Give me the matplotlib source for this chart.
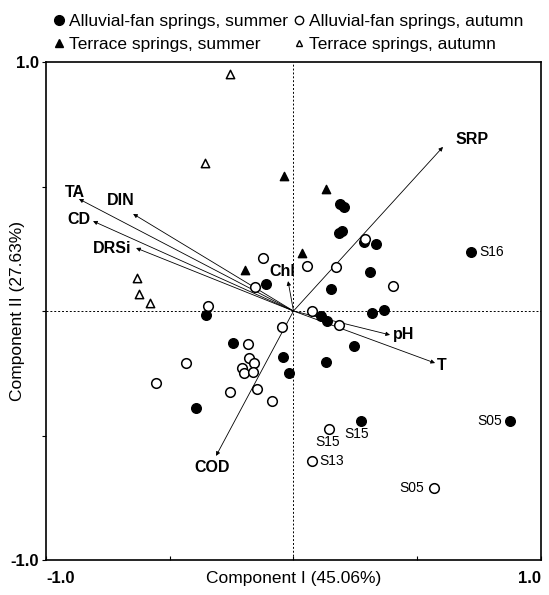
import numpy as np
import matplotlib.pyplot as plt
from matplotlib.lines import Line2D

plt.rcParams['font.family'] = ['Liberation Sans', 'DejaVu Sans']

# scores: alluvial-fan springs, summer (filled circles)
af_sum_x = [0.188, 0.204, 0.184, 0.196, 0.285, 0.333, 0.309, 0.152, 0.366, 0.317,
            0.111, 0.135, 0.244, 0.131, -0.042, -0.018, -0.111, -0.354, -0.244,
            -0.394, 0.717, 0.875, 0.273]
af_sum_y = [0.430, 0.418, 0.313, 0.321, 0.277, 0.269, 0.157, 0.088, 0.004, -0.008,
            -0.020, -0.040, -0.141, -0.205, -0.185, -0.249, 0.108, -0.016, -0.129,
            -0.390, 0.237, -0.442, -0.442]

# alluvial-fan springs, autumn (open circles)
af_aut_x = [0.289, 0.055, 0.172, 0.402, 0.075, 0.184, -0.046, -0.123, -0.156, -0.345,
            -0.184, -0.434, -0.180, -0.160, -0.208, -0.200, -0.164, -0.556, -0.257,
            -0.147, -0.087, 0.143, 0.075, 0.568]
af_aut_y = [0.289, 0.181, 0.177, 0.100, 0.000, -0.056, -0.064, 0.213, 0.096, 0.020,
            -0.133, -0.209, -0.189, -0.209, -0.229, -0.249, -0.245, -0.289, -0.325,
            -0.313, -0.361, -0.474, -0.602, -0.711]

# terrace springs
tr_sum_x = [-0.038, 0.131, 0.034, -0.196]
tr_sum_y = [0.542, 0.490, 0.233, 0.165]
tr_aut_x = [-0.257, -0.358, -0.632, -0.624, -0.580]
tr_aut_y = [0.952, 0.594, 0.133, 0.068, 0.032]

# loadings
var_names = ['SRP', 'TA', 'DIN', 'CD', 'DRSi', 'Chl', 'pH', 'T', 'COD']
var_x = [0.604, -0.867, -0.648, -0.810, -0.636, -0.022, 0.390, 0.572, -0.313]
var_y = [0.659, 0.450, 0.390, 0.361, 0.253, 0.120, -0.096, -0.209, -0.582]

# labelled sites
site_names = ['S16', 'S05', 'S15', 'S15', 'S13', 'S05']
site_x = [0.717, 0.875, 0.273, 0.143, 0.075, 0.568]
site_y = [0.237, -0.442, -0.442, -0.474, -0.602, -0.711]

# label offsets in points
var_off = {'SRP': (21, 5), 'TA': (-3, 5), 'DIN': (-9, 10), 'CD': (-10, 1),
           'DRSi': (-17, 0), 'Chl': (-4, 7), 'pH': (10, 0), 'T': (5, -2),
           'COD': (-3, -8)}
site_off = [(6, 0, 'left'), (-6, 0, 'right'), (-3, -9, 'center'),
            (-1, -9, 'center'), (5, 0, 'left'), (-7, 0, 'right')]

fig = plt.figure(figsize=(5.49, 5.95), dpi=100)
ax = fig.add_axes([0.0838, 0.0588, 0.9016, 0.837])

ax.axhline(0, color='black', lw=0.7, ls=(0, (2, 2)), zorder=0)
ax.axvline(0, color='black', lw=0.7, ls=(0, (2, 2)), zorder=0)

ms = 48
ax.scatter(af_sum_x, af_sum_y, s=ms, marker='o', facecolor='black', edgecolor='black', zorder=3)
ax.scatter(af_aut_x, af_aut_y, s=ms, marker='o', facecolor='white', edgecolor='black', lw=1.1, zorder=3)
ax.scatter(tr_sum_x, tr_sum_y, s=36, marker='^', facecolor='black', edgecolor='black', zorder=3)
ax.scatter(tr_aut_x, tr_aut_y, s=36, marker='^', facecolor='white', edgecolor='black', lw=1.1, zorder=3)

for name, vx, vy in zip(var_names, var_x, var_y):
    ax.annotate('', xy=(vx, vy), xytext=(0, 0),
                arrowprops=dict(arrowstyle='-|>', lw=0.6, color='black', mutation_scale=6,
                                shrinkA=0, shrinkB=0), zorder=2)
    dx, dy = var_off[name]
    ax.annotate(name, xy=(vx, vy), xytext=(dx, dy), textcoords='offset points',
                ha='center', va='center', fontsize=11.5, fontweight='bold')

for (name, sx, sy), (dx, dy, ha) in zip(zip(site_names, site_x, site_y), site_off):
    ax.annotate(name, xy=(sx, sy), xytext=(dx, dy), textcoords='offset points',
                ha=ha, va='center', fontsize=10)

ax.set_xlim(-1, 1)
ax.set_ylim(-1, 1)
ax.set_xticks([-1, -0.5, 0, 0.5, 1])
ax.set_yticks([-1, -0.5, 0, 0.5, 1])
ax.set_xticklabels(['-1.0', '', '', '', '1.0'], fontsize=12, fontweight='bold')
ax.set_yticklabels(['-1.0', '', '', '', '1.0'], fontsize=12, fontweight='bold')
xl = ax.get_xticklabels()
xl[0].set_ha('left')
xl[-1].set_ha('right')
ax.tick_params(axis='x', direction='in', length=3, pad=8)
ax.tick_params(axis='y', direction='out', length=3, pad=2)
for sp in ax.spines.values():
    sp.set_linewidth(1.2)

ax.set_xlabel('Component I (45.06%)', fontsize=12.5)
ax.xaxis.set_label_coords(0.5, -0.022)
ax.set_ylabel('Component II (27.63%)', fontsize=12.5)
ax.yaxis.set_label_coords(-0.042, 0.5)

handles = [
    Line2D([], [], marker='o', ls='', mfc='black', mec='black', ms=7),
    Line2D([], [], marker='^', ls='', mfc='black', mec='black', ms=6),
    Line2D([], [], marker='o', ls='', mfc='white', mec='black', ms=6),
    Line2D([], [], marker='^', ls='', mfc='white', mec='black', ms=5),
]
labels = ['Alluvial-fan springs, summer', 'Terrace springs, summer',
          'Alluvial-fan springs, autumn', 'Terrace springs, autumn']
fig.legend(handles, labels, ncol=2, loc='upper left', bbox_to_anchor=(0.085, 0.988),
           frameon=False, fontsize=12.5, handlelength=0.6, handletextpad=0.3,
           columnspacing=0.3, labelspacing=0.45, borderaxespad=0)

fig.savefig('out.png', dpi=100)
